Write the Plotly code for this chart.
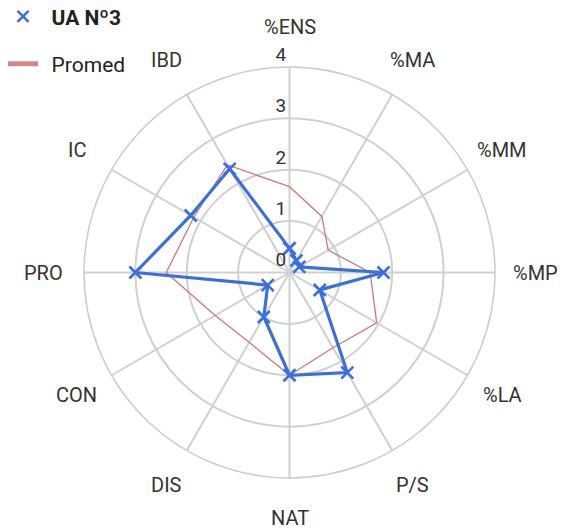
import math
import plotly.graph_objects as go

# Indicator axes, clockwise from the top
categories = ["%ENS", "%MA", "%MM", "%MP", "%LA", "P/S", "NAT", "DIS", "CON", "PRO", "IC", "IBD"]

# Series values
ua3_values = [0.47, 0.27, 0.22, 1.83, 0.68, 2.25, 2.0, 1.0, 0.49, 3.0, 2.22, 2.33]
promed_values = [1.67, 1.26, 0.87, 1.57, 1.96, 1.69, 2.0, 1.57, 1.67, 2.4, 2.15, 2.42]

# Radial ticks
radial_ticks = [0, 1, 2, 3, 4]
radial_ticktext = ["0", "1", "2", "3", "4"]

BLUE = "#3a70dd"
RED = "#cc7a7a"
FONT = "Roboto"
RMAX = 4
LABEL_OFFSET = 1.195  # category label distance, as a fraction of the ring radius


def closed(seq):
    return list(seq) + [seq[0]]


fig = go.Figure()

# Average profile
fig.add_trace(go.Scatterpolar(
    r=closed(promed_values), theta=closed(categories),
    mode="lines", line=dict(color=RED, width=1.3),
    showlegend=False, hoverinfo="skip",
))

# UA Nº3 profile
fig.add_trace(go.Scatterpolar(
    r=closed(ua3_values), theta=closed(categories),
    mode="lines+markers",
    line=dict(color=BLUE, width=3.2),
    marker=dict(symbol="x-thin", size=12, line=dict(color=BLUE, width=2.6)),
    showlegend=False,
))

# Legend entries
fig.add_trace(go.Scatterpolar(
    r=[None], theta=[categories[0]], name="\u2009\u2009<b>UA Nº3</b>",
    mode="markers",
    marker=dict(symbol="x-thin", size=11, line=dict(color=BLUE, width=2.5)),
    legendgroup="a",
))
fig.add_trace(go.Scatterpolar(
    r=[None], theta=[categories[0]], name="\u2009\u2009Promed",
    mode="lines", line=dict(color="#d98585", width=5),
    legendgroup="b",
))

# Category names centred on each spoke, outside the ring
step = 360 / len(categories)
annotations = []
for i, name in enumerate(categories):
    a = math.radians(90 - i * step)
    annotations.append(dict(
        text=name, xref="paper", yref="paper",
        x=0.5 + 0.5 * LABEL_OFFSET * math.cos(a),
        y=0.5 + 0.5 * LABEL_OFFSET * math.sin(a),
        xanchor="center", yanchor="middle", showarrow=False,
        font=dict(family=FONT, size=20, color="#333333"),
    ))

fig.update_layout(
    width=563, height=531,
    margin=dict(l=84, r=68, t=67, b=53, autoexpand=False),
    paper_bgcolor="white",
    plot_bgcolor="white",
    font=dict(family=FONT, size=20, color="#333333"),
    annotations=annotations,
    polar=dict(
        bgcolor="white",
        domain=dict(x=[0, 1], y=[0, 1]),
        angularaxis=dict(
            direction="clockwise", rotation=90,
            categoryorder="array", categoryarray=categories,
            showline=True, linecolor="#cccccc", linewidth=1.5,
            showgrid=True, gridcolor="#d0d0d0", gridwidth=1.5,
            ticks="", showticklabels=False,
        ),
        radialaxis=dict(
            range=[0, RMAX], angle=90, side="counterclockwise", tickangle=90,
            tickvals=radial_ticks,
            ticktext=[t + "<br>\u00a0" for t in radial_ticktext],
            showline=False, ticks="",
            showgrid=True, gridcolor="#d0d0d0", gridwidth=1.5,
            tickfont=dict(family=FONT, size=19, color="#333333"),
        ),
    ),
    legend=dict(
        x=-0.197, y=1.172, xanchor="left", yanchor="top",
        tracegroupgap=17,
        font=dict(family=FONT, size=21, color="#222222"),
        bgcolor="rgba(0,0,0,0)",
        itemwidth=30,
    ),
)

fig.write_html("out.html")
